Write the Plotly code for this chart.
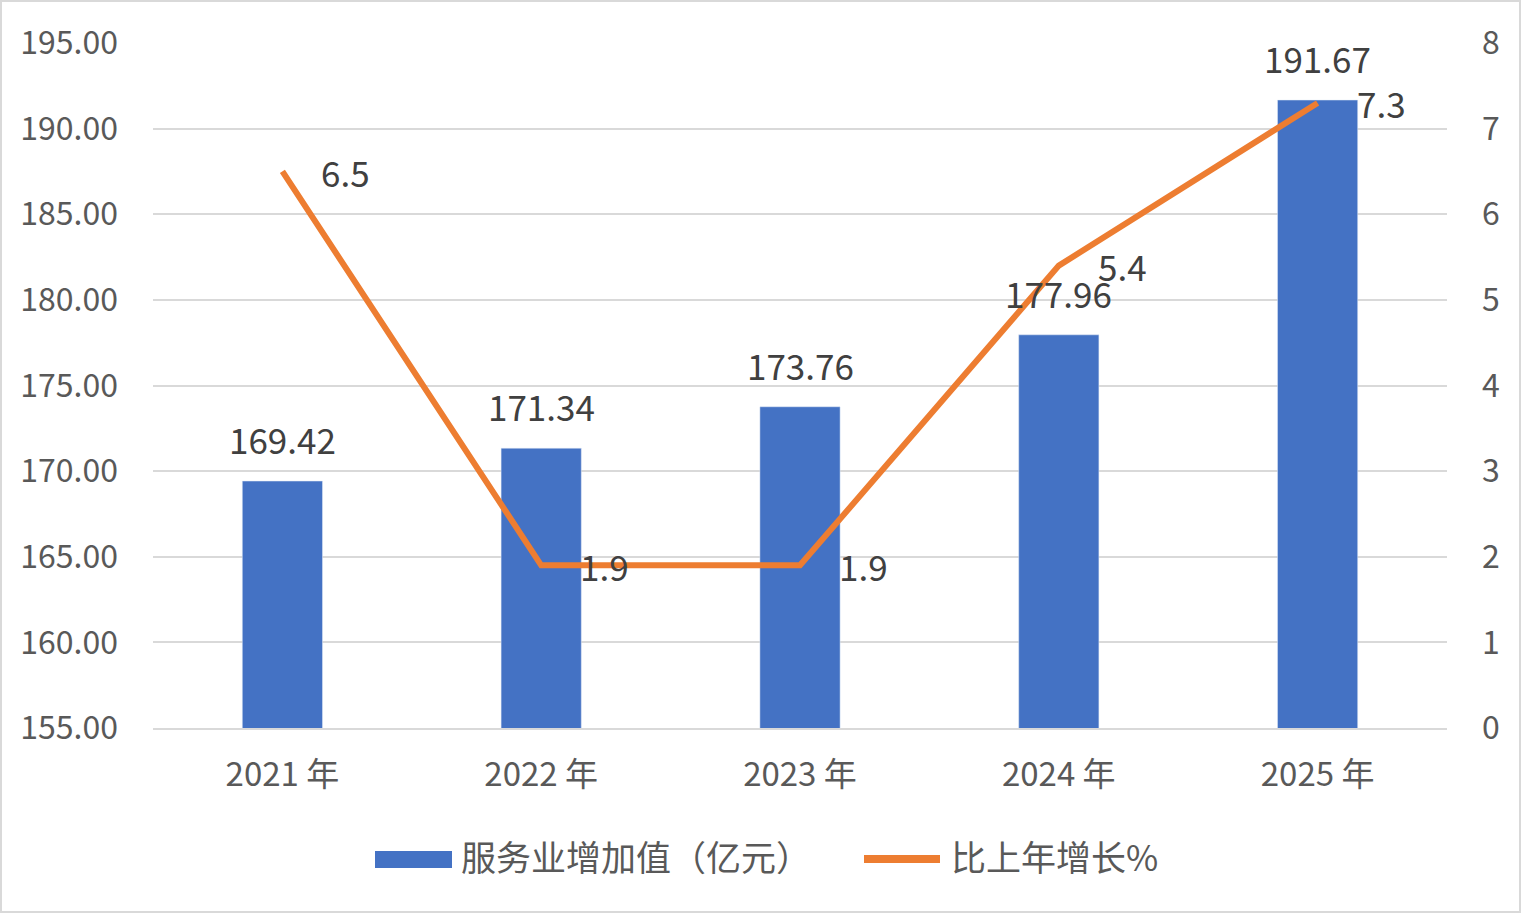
import plotly.graph_objects as go

# 数据
years = ["2021 年", "2022 年", "2023 年", "2024 年", "2025 年"]
service_value = [169.42, 171.34, 173.76, 177.96, 191.67]
growth_pct = [6.5, 1.9, 1.9, 5.4, 7.3]

left_ticks = [155, 160, 165, 170, 175, 180, 185, 190, 195]
right_ticks = [0, 1, 2, 3, 4, 5, 6, 7, 8]

bar_name = "服务业增加值（亿元）"
line_name = "比上年增长%"

FONT = "Noto Sans CJK SC"
BLUE = "#4472C4"
ORANGE = "#ED7D31"
W, H = 1524, 918
ML, MR, MT, MB = 153, 77, 43, 190
PW, PH = W - ML - MR, H - MT - MB


def px_x(p):
    # 像素 -> paper 坐标
    return (p - ML) / PW


def px_y(p):
    return (H - MB - p) / PH


fig = go.Figure()

fig.add_trace(go.Bar(x=years, y=service_value, name=bar_name,
                     marker_color=BLUE, width=0.31))
fig.add_trace(go.Scatter(x=years, y=growth_pct, name=line_name, yaxis="y2",
                         mode="lines", line=dict(color=ORANGE, width=6)))

# 数据标签
for x, v in zip(years, service_value):
    fig.add_annotation(x=x, y=v, xref="x", yref="y", text=f"{v:.2f}",
                       showarrow=False, yanchor="bottom", yshift=15,
                       font=dict(family=FONT, size=35, color="#404040"))
for x, v in zip(years, growth_pct):
    fig.add_annotation(x=x, y=v, xref="x", yref="y2", text=f"{v}",
                       showarrow=False, xanchor="left", xshift=37,
                       font=dict(family=FONT, size=35, color="#404040"))

# 图例（手绘）
fig.add_shape(type="rect", xref="paper", yref="paper",
              x0=px_x(375), x1=px_x(452), y0=px_y(868), y1=px_y(851),
              fillcolor=BLUE, line=dict(width=0))
fig.add_shape(type="line", xref="paper", yref="paper",
              x0=px_x(864), x1=px_x(940), y0=px_y(859), y1=px_y(859),
              line=dict(color=ORANGE, width=8))
fig.add_annotation(xref="paper", yref="paper", x=px_x(459), y=px_y(856),
                   xanchor="left", yanchor="middle", showarrow=False, text=bar_name,
                   font=dict(family=FONT, size=35, color="#595959"))
fig.add_annotation(xref="paper", yref="paper", x=px_x(949), y=px_y(856),
                   xanchor="left", yanchor="middle", showarrow=False, text=line_name,
                   font=dict(family=FONT, size=35, color="#595959"))

# 外边框
fig.add_shape(type="rect", xref="paper", yref="paper",
              x0=px_x(1), x1=px_x(1520), y0=px_y(912), y1=px_y(1),
              line=dict(color="#D9D9D9", width=2), fillcolor="rgba(0,0,0,0)")

fig.update_layout(
    width=W, height=H,
    margin=dict(l=ML, r=MR, t=MT, b=MB),
    paper_bgcolor="white", plot_bgcolor="white",
    font=dict(family=FONT, size=32, color="#595959"),
    showlegend=False,
    xaxis=dict(showgrid=False, showline=True, linecolor="#D9D9D9", linewidth=2,
               ticks="", ticklabelstandoff=16, tickfont=dict(size=33)),
    yaxis=dict(range=[155, 195], tickvals=left_ticks, tickformat=".2f",
               showgrid=True, gridcolor="#D9D9D9", gridwidth=2, zeroline=False,
               ticks="", ticklabelstandoff=34, tickfont=dict(size=32)),
    yaxis2=dict(range=[0, 8], tickvals=right_ticks, overlaying="y", side="right",
                showgrid=False, zeroline=False, ticks="", ticklabelstandoff=34,
                tickfont=dict(size=32)),
)

fig.write_html("out.html", config={"displayModeBar": False},
               post_script="document.body.style.margin='0';")
